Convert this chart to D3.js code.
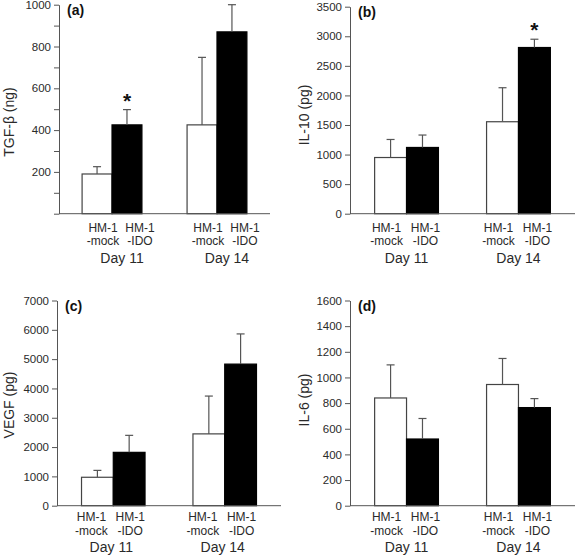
<!DOCTYPE html>
<html>
<head>
<meta charset="utf-8">
<script src="https://cdn.jsdelivr.net/npm/d3@7"></script>
<style>
  html, body { margin: 0; padding: 0; background: #fff; }
  svg { display: block; font-family: "Liberation Sans", Arial, sans-serif; }
</style>
</head>
<body>
<svg id="chart" width="576" height="557"></svg>
<script>
// ---- data ----
const panelLetters = ["(a)", "(b)", "(c)", "(d)"];
const yTitles = ["TGF-β (ng)", "IL-10 (pg)", "VEGF (pg)", "IL-6 (pg)"];
const days = ["Day 11", "Day 14"];
const groups = ["mock", "IDO"];
const labelLine1 = ["HM-1", "HM-1"];
const labelLine2 = ["-mock", "-IDO"];

// order: [Day11 mock, Day11 IDO, Day14 mock, Day14 IDO]
const tgfMeans  = [190, 425, 425, 870];
const tgfErr    = [35, 73, 323, 130];
const tgfSig    = [false, true, false, false];

const il10Means = [950, 1120, 1555, 2810];
const il10Err   = [305, 210, 575, 140];
const il10Sig   = [false, false, false, true];

const vegfMeans = [970, 1820, 2450, 4830];
const vegfErr   = [235, 580, 1290, 1030];
const vegfSig   = [false, false, false, false];

const il6Means  = [840, 520, 945, 765];
const il6Err    = [258, 160, 203, 70];
const il6Sig    = [false, false, false, false];

const tgfTicks  = [0, 100, 200, 300, 400, 500, 600, 700, 800, 900, 1000];
const tgfLabels = ["", "", "200", "", "400", "", "600", "", "800", "", "1000"];
const il10Ticks = [0, 500, 1000, 1500, 2000, 2500, 3000, 3500];
const vegfTicks = [0, 1000, 2000, 3000, 4000, 5000, 6000, 7000];
const il6Ticks  = [0, 200, 400, 600, 800, 1000, 1200, 1400, 1600];

// ---- layout ----
const topRow = { l1: 18, l2: 31, day: 49 };
const botRow = { l1: 15.5, l2: 29.5, day: 46 };
const panels = [
  { means: tgfMeans, err: tgfErr, sig: tgfSig, ticks: tgfTicks, labels: tgfLabels, max: 1000,
    x0: 59, x1: 270, yb: 213.7, yt: 4.7, titleX: 14, titleY: 122, labelDx: 10, row: topRow },
  { means: il10Means, err: il10Err, sig: il10Sig, ticks: il10Ticks, labels: null, max: 3500,
    x0: 350, x1: 575, yb: 213.7, yt: 6.7, titleX: 309, titleY: 115, labelDx: 0, row: topRow },
  { means: vegfMeans, err: vegfErr, sig: vegfSig, ticks: vegfTicks, labels: null, max: 7000,
    x0: 57, x1: 281, yb: 505.7, yt: 300.5, titleX: 14, titleY: 405, labelDx: -2, row: botRow },
  { means: il6Means, err: il6Err, sig: il6Sig, ticks: il6Ticks, labels: null, max: 1600,
    x0: 350, x1: 575, yb: 505.7, yt: 300.5, titleX: 309, titleY: 400, labelDx: 0, row: botRow }
];

const svg = d3.select("#chart");
const axisColor = "#555";
const textColor = "#2a2a2a";

panels.forEach((p, pi) => {
  const g = svg.append("g");
  const x = d3.scaleBand().domain(days).range([p.x0, p.x1]).paddingInner(0.43).paddingOuter(0.22);
  const xs = d3.scaleBand().domain(groups).range([0, x.bandwidth()]).padding(0);
  const y = d3.scaleLinear().domain([0, p.max]).range([p.yb, p.yt]);

  const rows = [];
  days.forEach((d, di) => groups.forEach((gr, gi) => {
    const k = di * 2 + gi;
    rows.push({ day: d, grp: gr, gi, mean: p.means[k], err: p.err[k], sig: p.sig[k] });
  }));

  // bars
  g.selectAll("rect.bar").data(rows).join("rect")
    .attr("class", "bar")
    .attr("x", d => x(d.day) + xs(d.grp))
    .attr("y", d => y(d.mean))
    .attr("width", xs.bandwidth())
    .attr("height", d => y(0) - y(d.mean))
    .attr("fill", d => d.gi === 0 ? "#fff" : "#000")
    .attr("stroke", d => d.gi === 0 ? "#444" : "#000")
    .attr("stroke-width", 1.2);

  // error bars
  const cx = d => x(d.day) + xs(d.grp) + xs.bandwidth() / 2;
  g.selectAll("line.eb").data(rows).join("line")
    .attr("class", "eb")
    .attr("x1", cx).attr("x2", cx)
    .attr("y1", d => y(d.mean)).attr("y2", d => y(d.mean + d.err))
    .attr("stroke", axisColor).attr("stroke-width", 1.2);
  g.selectAll("line.cap").data(rows).join("line")
    .attr("class", "cap")
    .attr("x1", d => cx(d) - 4).attr("x2", d => cx(d) + 4)
    .attr("y1", d => y(d.mean + d.err)).attr("y2", d => y(d.mean + d.err))
    .attr("stroke", axisColor).attr("stroke-width", 1.2);

  // significance stars
  g.selectAll("text.star").data(rows.filter(d => d.sig)).join("text")
    .attr("class", "star")
    .attr("x", cx)
    .attr("y", d => y(d.mean + d.err) - 2)
    .attr("text-anchor", "middle")
    .attr("font-size", 21).attr("font-weight", "bold")
    .attr("fill", "#111")
    .text("*");

  // y axis
  const yAxis = d3.axisLeft(y).tickValues(p.ticks).tickSize(5).tickSizeOuter(0).tickPadding(3);
  if (p.labels) yAxis.tickFormat((d, i) => p.labels[i]);
  else yAxis.tickFormat(d3.format("d"));
  const ya = g.append("g").attr("transform", `translate(${p.x0},0)`).call(yAxis);
  ya.select(".domain").attr("stroke", axisColor);
  ya.selectAll(".tick line").attr("stroke", axisColor);
  ya.selectAll(".tick text").attr("font-size", 11.5).attr("fill", textColor)
    .attr("font-family", "'Liberation Sans', Arial, sans-serif");

  // x axis line
  g.append("line")
    .attr("x1", p.x0).attr("x2", p.x1)
    .attr("y1", y(0)).attr("y2", y(0))
    .attr("stroke", axisColor).attr("stroke-width", 1);

  // bar labels
  const lblX = d => cx(d) + p.labelDx + (d.gi === 0 ? -4 : 3);
  g.selectAll("text.l1").data(rows).join("text")
    .attr("class", "l1")
    .attr("x", lblX).attr("y", y(0) + p.row.l1)
    .attr("text-anchor", "middle").attr("font-size", 12).attr("fill", textColor)
    .text(d => labelLine1[d.gi]);
  g.selectAll("text.l2").data(rows).join("text")
    .attr("class", "l2")
    .attr("x", lblX).attr("y", y(0) + p.row.l2)
    .attr("text-anchor", "middle").attr("font-size", 12).attr("fill", textColor)
    .text(d => labelLine2[d.gi]);

  // day labels
  g.selectAll("text.day").data(days).join("text")
    .attr("class", "day")
    .attr("x", d => x(d) + x.bandwidth() / 2 + p.labelDx)
    .attr("y", y(0) + p.row.day)
    .attr("text-anchor", "middle").attr("font-size", 14).attr("fill", textColor)
    .text(d => d);

  // y title
  g.append("text")
    .attr("transform", `translate(${p.titleX},${p.titleY}) rotate(-90)`)
    .attr("text-anchor", "middle").attr("font-size", 14).attr("fill", textColor)
    .text(yTitles[pi]);

  // panel letter
  g.append("text")
    .attr("x", p.x0 + 8).attr("y", p.yt + 10)
    .attr("font-size", 14).attr("font-weight", "bold").attr("fill", "#111")
    .text(panelLetters[pi]);
});
</script>
</body>
</html>
